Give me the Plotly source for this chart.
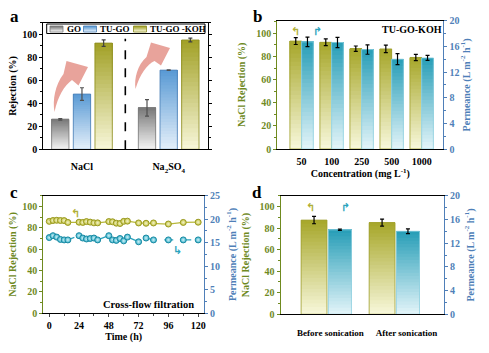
import numpy as np
import plotly.graph_objects as go

W, H = 489, 353

# ---------------- data ----------------
# panel a
a_categories = ["NaCl", "Na<sub>2</sub>SO<sub>4</sub>"]
a_series = ["GO", "TU-GO", "TU-GO -KOH"]
a_go = [26.0, 36.0]
a_go_err = [0.7, 7.2]
a_tugo = [48.0, 68.8]
a_tugo_err = [5.5, 0.3]
a_koh = [92.3, 95.0]
a_koh_err = [2.8, 1.6]

# panel b
b_conc = ["50", "100", "250", "500", "1000"]
b_rej = [93.4, 92.3, 86.8, 86.6, 79.2]
b_rej_err = [3.0, 2.9, 2.3, 3.2, 2.7]
b_perm = [16.7, 16.6, 15.5, 14.0, 14.2]
b_perm_err = [0.75, 0.8, 0.73, 0.86, 0.4]

# panel c
c_time = [0, 3, 6, 9, 12, 15, 24, 27, 30, 33, 36, 39, 48, 51, 54, 57, 60, 63,
          72, 78, 84, 96, 108, 120]
c_rej = [86.0, 86.8, 87.0, 86.8, 86.7, 85.0, 85.2, 85.0, 85.8, 85.3, 84.6, 84.6,
         85.8, 85.6, 84.3, 84.0, 86.0, 86.2, 84.5, 84.2, 84.5, 83.5, 85.0, 85.2]
c_perm = [16.1, 16.5, 16.2, 15.7, 15.6, 15.6, 16.5, 16.0, 15.8, 15.9, 16.0, 15.6,
          16.5, 15.6, 15.5, 15.9, 15.4, 16.2, 15.2, 16.0, 15.6, 15.6, 15.6, 15.6]

# panel d
d_cats = ["Before sonication", "After sonication"]
d_rej = [87.4, 85.0]
d_rej_err = [3.4, 3.2]
d_perm = [14.25, 14.0]
d_perm_err = [0.12, 0.4]

# ---------------- styles ----------------
OLIVE = "#6f8a1f"
BLUE = "#4f7fb8"
YEL_TOP, YEL_BOT, YEL_LINE = "#a8a82c", "#f6f6d8", "#a0a030"
CYA_TOP, CYA_BOT, CYA_LINE = "#2a9fb8", "#e0f3f8", "#8fd0df"
GO_TOP, GO_BOT, GO_LINE = "#7a7a7a", "#f2f2f2", "#7a7a7a"
TG_TOP, TG_BOT, TG_LINE = "#5b9bd5", "#e2eef9", "#4a7fb5"
KO_TOP, KO_BOT, KO_LINE = "#a3a229", "#f6f5d6", "#8c8c20"
FONT = "Liberation Serif"


def hex2rgb(h):
    h = h.lstrip("#")
    return [int(h[i:i + 2], 16) for i in (0, 2, 4)]


def lerp(c1, c2, t):
    a, b = hex2rgb(c1), hex2rgb(c2)
    return "rgb(%d,%d,%d)" % tuple(round(a[i] + (b[i] - a[i]) * t) for i in range(3))


def px(x, y):
    return x / W, 1 - y / H


fig = go.Figure()


def gradient_bars(x, vals, offset, width, top, bottom, line_color, err, err_color,
                  xa, ya, n=26):
    vals = np.array(vals, dtype=float)
    for k in range(n):
        t = k / (n - 1)
        base = vals * k / n
        fig.add_trace(go.Bar(x=x, y=vals - base, base=base, offset=offset, width=width,
                             marker=dict(color=lerp(bottom, top, t), line=dict(width=0)),
                             xaxis=xa, yaxis=ya, showlegend=False, hoverinfo="skip"))
    fig.add_trace(go.Bar(x=x, y=vals, offset=offset, width=width,
                         marker=dict(color="rgba(0,0,0,0)", line=dict(color=line_color, width=0.8)),
                         error_y=dict(type="data", array=err, color=err_color, thickness=1.2, width=2),
                         xaxis=xa, yaxis=ya, showlegend=False, hoverinfo="skip"))


# panel a bars
ax_idx = list(range(len(a_categories)))
gradient_bars(ax_idx, a_go, -0.35, 0.2, GO_TOP, GO_BOT, GO_LINE, a_go_err, "#505050", "x", "y")
gradient_bars(ax_idx, a_tugo, -0.10, 0.2, TG_TOP, TG_BOT, TG_LINE, a_tugo_err, "#505050", "x", "y")
gradient_bars(ax_idx, a_koh, 0.15, 0.2, KO_TOP, KO_BOT, KO_LINE, a_koh_err, "#404040", "x", "y")

# panel b bars
bx = list(range(len(b_conc)))
gradient_bars(bx, b_rej, -0.39, 0.39, YEL_TOP, YEL_BOT, YEL_LINE, b_rej_err, "black", "x2", "y2")
gradient_bars(bx, b_perm, 0.0, 0.39, CYA_TOP, CYA_BOT, CYA_LINE, b_perm_err, "black", "x2", "y3")

# panel c lines
fig.add_trace(go.Scatter(x=c_time, y=c_rej, mode="lines+markers", xaxis="x3", yaxis="y4",
                         line=dict(color="#b8b83a", width=1.3),
                         marker=dict(size=6, color="#c2c240", line=dict(color="#9a9a22", width=1),
                                     gradient=dict(type="radial", color="#f4f4cc")),
                         showlegend=False))
fig.add_trace(go.Scatter(x=c_time, y=c_perm, mode="lines+markers", xaxis="x3", yaxis="y5",
                         line=dict(color="#2aa3bd", width=1.3, dash="dash"),
                         marker=dict(size=6, color="#2fb0c9", line=dict(color="#1c8aa3", width=1),
                                     gradient=dict(type="radial", color="#d6f1f7")),
                         showlegend=False))

# panel d bars
dx = list(range(len(d_cats)))
gradient_bars(dx, d_rej, -0.39, 0.38, YEL_TOP, YEL_BOT, YEL_LINE, d_rej_err, "black", "x4", "y6")
gradient_bars(dx, d_perm, 0.01, 0.34, CYA_TOP, CYA_BOT, CYA_LINE, d_perm_err, "black", "x4", "y7")

# ---------------- layout ----------------
tickf = dict(family=FONT, size=10, color="black", weight="bold")


def dom_x(l, r):
    return [l / W, r / W]


def dom_y(b, t):
    return [1 - b / H, 1 - t / H]


def ttl(text, color="black", standoff=4):
    return dict(text=text, font=dict(family=FONT, size=10, color=color, weight="bold"),
                standoff=standoff)


common_x = dict(showline=True, linecolor="black", linewidth=1.2, mirror=True, showgrid=False,
                zeroline=False, tickfont=tickf, automargin=False)


def ly(color, rng, dtick, title, side="left", overlay=None, anchor=None, domain=None,
       standoff=4):
    d = dict(range=rng, dtick=dtick, showline=True, linecolor=color, linewidth=1.2,
             showgrid=False, zeroline=False, ticks="outside", ticklen=3, tickcolor=color,
             tickfont=dict(family=FONT, size=10, color=color, weight="bold"),
             title=ttl(title, color, standoff), side=side, automargin=False,
             minor=dict(ticks="outside", ticklen=2, tickcolor=color, dtick=dtick / 2))
    if overlay:
        d["overlaying"] = overlay
    if anchor:
        d["anchor"] = anchor
    if domain:
        d["domain"] = domain
    return d


perm_title = "Permeance (L m<sup>-2</sup> h<sup>-1</sup>)"
rej_title = "NaCl Rejection (%)"

fig.update_layout(
    width=W, height=H, margin=dict(l=0, r=0, t=0, b=0, autoexpand=False),
    paper_bgcolor="white", plot_bgcolor="white", barmode="overlay", showlegend=False,
    font=dict(family=FONT, size=10, color="black"),
    xaxis=dict(common_x, domain=dom_x(43.3, 208.3), range=[-0.446, 1.457], tickvals=ax_idx,
               ticktext=a_categories, ticks="", ticklabelstandoff=8, anchor="y"),
    yaxis=dict(ly("black", [0, 110], 20, "Rejection (%)", domain=dom_y(149.3, 22.7),
                  anchor="x", standoff=3), mirror="ticks"),
    xaxis2=dict(common_x, domain=dom_x(277.3, 443.3), range=[-0.81, 4.72], tickvals=bx,
                ticktext=b_conc, ticks="", ticklabelstandoff=3, anchor="y2",
                title=ttl("Concentration (mg L<sup>-1</sup>)", standoff=1)),
    yaxis2=ly(OLIVE, [0, 111], 20, rej_title, domain=dom_y(149, 20.7), anchor="x2", standoff=8),
    yaxis3=ly(BLUE, [0, 20], 4, perm_title, side="right", overlay="y2", anchor="x2", standoff=0),
    xaxis3=dict(common_x, domain=dom_x(43.3, 204), range=[-4.8, 124.7], tick0=0, dtick=24,
                ticks="outside", ticklen=3, anchor="y4",
                minor=dict(ticks="outside", ticklen=2, dtick=12),
                title=ttl("Time (h)", standoff=2)),
    yaxis4=ly(OLIVE, [0, 110], 20, rej_title, domain=dom_y(313.3, 195.7), anchor="x3", standoff=3),
    yaxis5=ly(BLUE, [0, 25], 5, perm_title, side="right", overlay="y4", anchor="x3", standoff=9),
    xaxis4=dict(common_x, domain=dom_x(280.7, 444), range=[-0.69, 1.71], tickvals=[0.04, 1.16],
                ticktext=d_cats, ticks="", ticklabelstandoff=10, anchor="y6", tickangle=0,
                tickfont=dict(family=FONT, size=9, color="black", weight="bold")),
    yaxis6=ly(OLIVE, [0, 110], 20, rej_title, domain=dom_y(314.3, 195.7), anchor="x4", standoff=8),
    yaxis7=ly(BLUE, [0, 20], 4, perm_title, side="right", overlay="y6", anchor="x4", standoff=7),
)

shapes = []
annos = []

# panel a: dashed separator
shapes.append(dict(type="line", xref="x", yref="y", x0=0.5, x1=0.5, y0=0, y1=96,
                   line=dict(color="black", width=1.6, dash="dash")))


# panel a: curved arrows (decoration)
def path_from(cmds):
    out = []
    for cmd, pts in cmds:
        coords = " ".join("%.5f,%.5f" % px(*p) for p in pts)
        out.append(cmd + " " + coords)
    return " ".join(out) + " Z"


arrow1 = path_from([
    ("M", [(54.5, 112)]),
    ("C", [(52.5, 100), (55, 85), (63.5, 74)]),
    ("L", [(66.5, 61)]),
    ("L", [(88, 67)]),
    ("L", [(78.5, 85.5)]),
    ("L", [(72, 80)]),
    ("C", [(64, 86), (58, 96), (54.5, 112)]),
])
arrow2 = path_from([
    ("M", [(135.5, 89)]),
    ("C", [(134, 78), (137.5, 65), (146.5, 57)]),
    ("L", [(151, 42.5)]),
    ("L", [(170, 48)]),
    ("L", [(161, 65.5)]),
    ("L", [(154.5, 61)]),
    ("C", [(147, 64.5), (140, 74), (135.5, 89)]),
])
for p in (arrow1, arrow2):
    shapes.append(dict(type="path", xref="paper", yref="paper", path=p,
                       fillcolor="rgba(226,140,130,0.8)", line=dict(width=0), layer="above"))

# panel a legend (manual)
lx0, ly0 = px(46.7, 24)
lx1, ly1 = px(205, 33.5)
shapes.append(dict(type="rect", xref="paper", yref="paper", x0=lx0, x1=lx1, y0=ly1, y1=ly0,
                   line=dict(color="black", width=1), fillcolor="white", layer="above"))
leg = [(50, GO_TOP, GO_BOT, GO_LINE), (83.5, TG_TOP, TG_BOT, TG_LINE),
       (133.5, KO_TOP, KO_BOT, KO_LINE)]
for (sx, top, bot, lc), name in zip(leg, a_series):
    nstrip = 6
    for k in range(nstrip):
        y0 = 26 + k
        c = lerp(top, bot, k / (nstrip - 1))
        x0p, y0p = px(sx, y0)
        x1p, y1p = px(sx + 13, y0 + 1)
        shapes.append(dict(type="rect", xref="paper", yref="paper", x0=x0p, x1=x1p, y0=y1p,
                           y1=y0p, line=dict(width=0), fillcolor=c, layer="above"))
    x0p, y0p = px(sx, 26)
    x1p, y1p = px(sx + 13, 32)
    shapes.append(dict(type="rect", xref="paper", yref="paper", x0=x0p, x1=x1p, y0=y1p, y1=y0p,
                       line=dict(color=lc, width=0.8), fillcolor="rgba(0,0,0,0)", layer="above"))
    tx, ty = px(sx + 14.5, 29)
    annos.append(dict(xref="paper", yref="paper", x=tx, y=ty, xanchor="left", yanchor="middle",
                      text=name, showarrow=False,
                      font=dict(family=FONT, size=9, color="black", weight="bold")))


def note(x, y, text, size=10, color="black", family=FONT, xanchor="center"):
    xp, yp = px(x, y)
    annos.append(dict(xref="paper", yref="paper", x=xp, y=yp, xanchor=xanchor, yanchor="middle",
                      text=text, showarrow=False,
                      font=dict(family=family, size=size, color=color, weight="bold")))


# panel letters
note(14, 16, "a", size=17)
note(257, 16, "b", size=17)
note(14, 192, "c", size=17)
note(257, 192, "d", size=17)

# panel annotations
note(411.5, 29.5, "TU-GO-KOH", size=10)
note(148, 304, "Cross-flow filtration", size=10.5)

# small bent arrows
ARW = "DejaVu Sans"
note(295.7, 31, "↰", size=11, color="#b0b035", family=ARW)
note(317, 31, "↱", size=11, color="#2aa3bd", family=ARW)
note(75, 213.5, "↰", size=11, color="#b0b035", family=ARW)
note(177, 250.5, "↳", size=11, color="#2aa3bd", family=ARW)
note(310, 207, "↰", size=11, color="#b0b035", family=ARW)
note(345, 207, "↱", size=11, color="#2aa3bd", family=ARW)

fig.update_layout(shapes=shapes, annotations=annos)
fig.write_html("out.html")
